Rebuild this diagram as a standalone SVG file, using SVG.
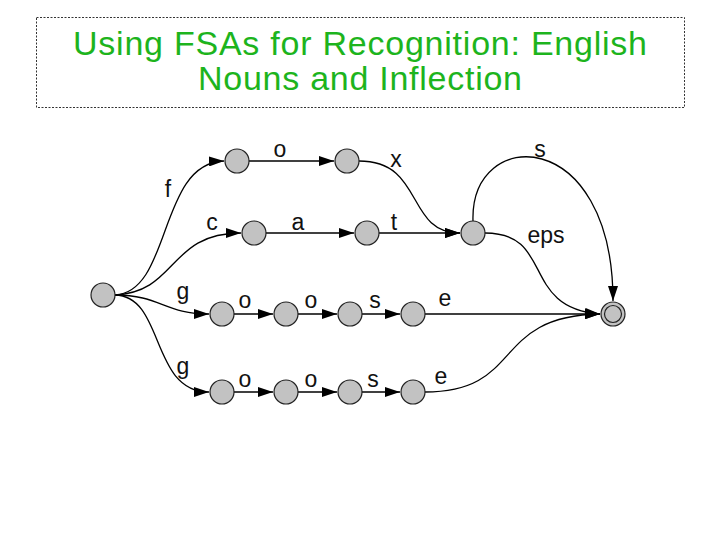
<svg xmlns="http://www.w3.org/2000/svg" width="720" height="540" viewBox="0 0 720 540">
<style>
.title{font-family:"Liberation Sans",Arial,sans-serif;font-size:34px;fill:#1db41d;text-anchor:middle}
.lbl{font-family:"Liberation Sans",Arial,sans-serif;font-size:23px;fill:#111;text-anchor:middle}
.st{fill:#c2c2c2;stroke:#222;stroke-width:1.2}
.e{fill:none;stroke:#000;stroke-width:1.3}
</style>
<defs>
<marker id="ah" viewBox="0 0 15 10" refX="15" refY="5" markerWidth="15" markerHeight="10" markerUnits="userSpaceOnUse" orient="auto">
<path d="M0,0 L15,5 L0,10 Z" fill="#000"/>
</marker>
</defs>
<rect x="36.5" y="17.5" width="648" height="90" fill="#fff" stroke="#333" stroke-width="1" stroke-dasharray="2,1.5"/>
<text class="title" x="360" y="55" textLength="574">Using FSAs for Recognition: English</text>
<text class="title" x="360" y="90" textLength="324">Nouns and Inflection</text>
<g id="connectors">
<path class="e" marker-end="url(#ah)" d="M115,295 C172,292 158,163 224,161"/>
<path class="e" marker-end="url(#ah)" d="M115,295 C178,292 168,233 241,233"/>
<path class="e" marker-end="url(#ah)" d="M115,295 C160,295 165,314 209,314"/>
<path class="e" marker-end="url(#ah)" d="M115,295 C165,296 150,392 209,392"/>
<path class="e" marker-end="url(#ah)" d="M249,161 L334,161"/>
<path class="e" marker-end="url(#ah)" d="M359,161 C425,161 405,233 460,233"/>
<path class="e" marker-end="url(#ah)" d="M266,233 L354,233"/>
<path class="e" marker-end="url(#ah)" d="M379,233 L460,233"/>
<path class="e" marker-end="url(#ah)" d="M473,221 C470,125 613,125 613,301"/>
<path class="e" marker-end="url(#ah)" d="M485,233 C555,233 520,308 600,314"/>
<path class="e" marker-end="url(#ah)" d="M234,314 L273,314"/>
<path class="e" marker-end="url(#ah)" d="M298,314 L337,314"/>
<path class="e" marker-end="url(#ah)" d="M362,314 L400,314"/>
<path class="e" marker-end="url(#ah)" d="M425,314 L600,314"/>
<path class="e" marker-end="url(#ah)" d="M234,392 L273,392"/>
<path class="e" marker-end="url(#ah)" d="M298,392 L337,392"/>
<path class="e" marker-end="url(#ah)" d="M362,392 L400,392"/>
<path class="e" marker-end="url(#ah)" d="M425,392 C525,392 490,316 600,314"/>
</g>
<g id="labels">
<text class="lbl" x="168" y="197">f</text>
<text class="lbl" x="280" y="157">o</text>
<text class="lbl" x="396" y="167">x</text>
<text class="lbl" x="212" y="230">c</text>
<text class="lbl" x="298" y="230">a</text>
<text class="lbl" x="394" y="230">t</text>
<text class="lbl" x="540" y="157">s</text>
<text class="lbl" x="546" y="243">eps</text>
<text class="lbl" x="183" y="299">g</text>
<text class="lbl" x="245" y="308">o</text>
<text class="lbl" x="311" y="308">o</text>
<text class="lbl" x="375" y="308">s</text>
<text class="lbl" x="445" y="306">e</text>
<text class="lbl" x="183" y="374">g</text>
<text class="lbl" x="245" y="387">o</text>
<text class="lbl" x="311" y="387">o</text>
<text class="lbl" x="373" y="387">s</text>
<text class="lbl" x="441" y="384">e</text>
</g>
<g id="n0"><circle class="st" cx="103" cy="295" r="12"/></g>
<g id="f1"><circle class="st" cx="237" cy="161" r="12"/></g>
<g id="f2"><circle class="st" cx="347" cy="161" r="12"/></g>
<g id="c1"><circle class="st" cx="254" cy="233" r="12"/></g>
<g id="c2"><circle class="st" cx="367" cy="233" r="12"/></g>
<g id="m"><circle class="st" cx="473" cy="233" r="12"/></g>
<g id="g1a"><circle class="st" cx="222" cy="314" r="12"/></g>
<g id="g1b"><circle class="st" cx="286" cy="314" r="12"/></g>
<g id="g1c"><circle class="st" cx="350" cy="314" r="12"/></g>
<g id="g1d"><circle class="st" cx="413" cy="314" r="12"/></g>
<g id="g2a"><circle class="st" cx="222" cy="392" r="12"/></g>
<g id="g2b"><circle class="st" cx="286" cy="392" r="12"/></g>
<g id="g2c"><circle class="st" cx="350" cy="392" r="12"/></g>
<g id="g2d"><circle class="st" cx="413" cy="392" r="12"/></g>
<g id="final"><circle class="st" cx="613" cy="314" r="12"/><circle cx="613" cy="314" r="8.5" fill="none" stroke="#222" stroke-width="1.2"/></g>
</svg>
